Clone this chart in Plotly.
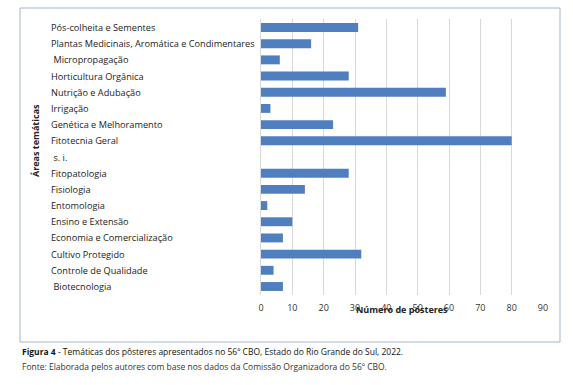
import plotly.graph_objects as go

categories = [
    "Pós-colheita e Sementes",
    "Plantas Medicinais, Aromática e Condimentares",
    " Micropropagação",
    "Horticultura Orgânica",
    "Nutrição e Adubação",
    "Irrigação",
    "Genética e Melhoramento",
    "Fitotecnia Geral",
    " s. i.",
    "Fitopatologia",
    "Fisiologia",
    "Entomologia",
    "Ensino e Extensão",
    "Economia e Comercialização",
    "Cultivo Protegido",
    "Controle de Qualidade",
    " Biotecnologia",
]
values = [31, 16, 6, 28, 59, 3, 23, 80, 0, 28, 14, 2, 10, 7, 32, 4, 7]
x_ticks = [0, 10, 20, 30, 40, 50, 60, 70, 80, 90]

W, H = 573, 385
L, R, T, B = 261, 543, 19, 295  # plot area in px

def px_x(p):
    return (p - L) / (R - L)

def px_y(p):
    return (B - p) / (B - T)

FONT = "Open Sans"
fig = go.Figure()
fig.add_trace(go.Bar(
    x=values, y=categories, orientation="h",
    marker=dict(color="#4F7FBE", line=dict(width=0)),
    hoverinfo="x+y",
))

annotations = []
for c in categories:
    annotations.append(dict(
        x=px_x(49), xref="paper", y=c, yref="y",
        text=c.replace(" ", "&nbsp;", 1) if c.startswith(" ") else c,
        xanchor="left", yanchor="middle", showarrow=False,
        font=dict(family=FONT, size=9.2, color="#222222"),
    ))
annotations.append(dict(
    x=0.5, xref="paper", y=px_y(309), yref="paper", text="<b>Número de pósteres</b>",
    xanchor="center", yanchor="middle", showarrow=False,
    font=dict(family=FONT, size=9, color="#222222"),
))
annotations.append(dict(
    x=px_x(35), xref="paper", y=px_y(141), yref="paper", text="<b>Áreas temáticas</b>",
    textangle=-90, xanchor="center", yanchor="middle", showarrow=False,
    font=dict(family=FONT, size=9, color="#222222"),
))
annotations.append(dict(
    x=px_x(20), xref="paper", y=px_y(351), yref="paper",
    text="<b>Figura 4</b> - Temáticas dos pôsteres apresentados no 56º CBO, Estado do Rio Grande do Sul, 2022.",
    xanchor="left", yanchor="middle", showarrow=False,
    font=dict(family=FONT, size=8.5, color="#111111"),
))
annotations.append(dict(
    x=px_x(20), xref="paper", y=px_y(366), yref="paper",
    text="Fonte: Elaborada pelos autores com base nos dados da Comissão Organizadora do 56º CBO.",
    xanchor="left", yanchor="middle", showarrow=False,
    font=dict(family=FONT, size=8.5, color="#333333"),
))

fig.update_layout(
    width=W, height=H,
    margin=dict(l=L, r=W - R, t=T, b=H - B, pad=0),
    paper_bgcolor="white", plot_bgcolor="white",
    showlegend=False,
    bargap=0.45,
    annotations=annotations,
    shapes=[dict(
        type="rect", xref="paper", yref="paper",
        x0=px_x(20), x1=px_x(560), y0=px_y(342), y1=px_y(8),
        line=dict(color="#A3B5CC", width=1), fillcolor="rgba(0,0,0,0)", layer="below",
    )],
    xaxis=dict(
        range=[0, 90], tickvals=x_ticks, showgrid=True, gridcolor="#D9D9D9", gridwidth=1,
        zeroline=False, showline=False, ticks="", ticklabelstandoff=6,
        tickfont=dict(family=FONT, size=9, color="#333333"),
    ),
    yaxis=dict(
        categoryorder="array", categoryarray=categories, autorange="reversed",
        showticklabels=False, showgrid=False, zeroline=False,
        showline=True, linecolor="#D9D9D9", linewidth=1, ticks="",
    ),
    font=dict(family=FONT),
)

fig.write_html(
    "out.html",
    config={"displayModeBar": False},
    post_script="document.body.style.margin='0';document.body.style.overflow='hidden';",
)
